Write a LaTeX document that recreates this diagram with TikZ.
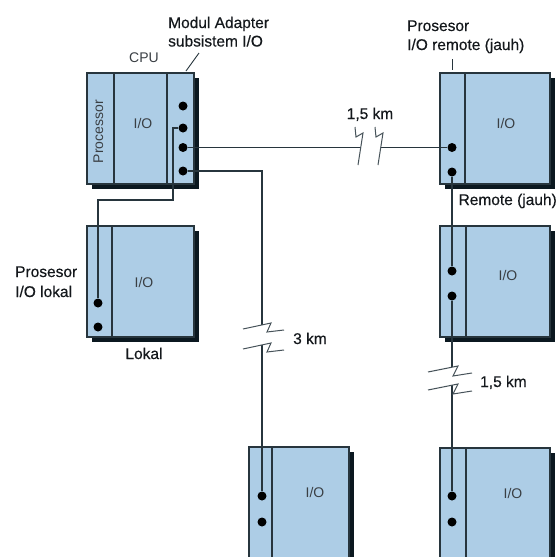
\documentclass[tikz,border=0pt]{standalone}
\usepackage{fontspec}
\setmainfont{Liberation Sans}
\newfontfamily\labfont[FakeBold=0.35]{Liberation Sans}
\usetikzlibrary{shadows}
\definecolor{boxfill}{HTML}{ADCDE6}
\definecolor{edge}{HTML}{27353D}
\definecolor{shad}{HTML}{0B1820}
\definecolor{lbl}{HTML}{14181C}
\definecolor{lt}{HTML}{3A3F44}
\begin{document}
\begin{tikzpicture}[x=1pt,y=-1pt,
 unit/.style={draw=edge, line width=1.2pt, fill=boxfill, anchor=north west, inner sep=0, outer sep=0,
   drop shadow={shadow xshift=4.5pt, shadow yshift=-4.5pt, fill=shad, opacity=1}},
 dot/.style={circle, fill=black, inner sep=0, minimum size=9pt},
 wire/.style={draw=edge, line width=1.2pt},
 brk/.style={draw=edge!85, line width=1pt},
 lab/.style={font=\labfont\fontsize{15.5}{19}\selectfont, text=lbl, inner sep=0},
 light/.style={font=\fontsize{14}{17}\selectfont, text=lt, inner sep=0},
]
\useasboundingbox (0,0) rectangle (558,557);
\clip (0,0) rectangle (558,557);
\fill[white] (0,0) rectangle (558,557);

% units
\node[unit, minimum width=107pt, minimum height=111pt] (cpu) at (87,73) {};
\node[unit, minimum width=107pt, minimum height=111pt] (lok) at (87,226) {};
\node[unit, minimum width=110pt, minimum height=111pt] (rem) at (440,73) {};
\node[unit, minimum width=110pt, minimum height=111pt] (rem2) at (440,226) {};
\node[unit, minimum width=100pt, minimum height=140pt] (bm) at (249,447) {};
\node[unit, minimum width=110pt, minimum height=140pt] (br) at (440,448) {};

% dividers
\draw[wire] (114,73) -- (114,184);
\draw[wire] (167,73) -- (167,184);
\draw[wire] (112,226) -- (112,337);
\draw[wire] (465,73) -- (465,184);
\draw[wire] (466,226) -- (466,337);
\draw[wire] (272,447) -- (272,590);
\draw[wire] (466,448) -- (466,590);

% dots
\node[dot] (c1) at (183,106) {};
\node[dot] (c2) at (183,128) {};
\node[dot] (c3) at (183,147.5) {};
\node[dot] (c4) at (183,171) {};
\node[dot] (l1) at (98,303) {};
\node[dot] (l2) at (98,327) {};
\node[dot] (r1) at (452,147.5) {};
\node[dot] (r2) at (452,172) {};
\node[dot] (s1) at (452,271) {};
\node[dot] (s2) at (452,296) {};
\node[dot] (m1) at (262,496) {};
\node[dot] (m2) at (262,522) {};
\node[dot] (b1) at (452,496) {};
\node[dot] (b2) at (452,522) {};

% bend / break coordinates
\coordinate (j1) at (173,128);
\coordinate (j2) at (173,200);
\coordinate (j3) at (98,200);
\coordinate (h1) at (360.7,147.5);
\coordinate (h2) at (380.7,147.5);
\coordinate (k0) at (262,171);
\coordinate (k1) at (262,324.9);
\coordinate (k2) at (262,344.9);
\coordinate (q1) at (452,367.2);
\coordinate (q2) at (452,385.2);

% connectors
\draw[wire] (c2) -- (j1) -- (j2) -- (j3) -- (l1);
\draw[wire] (c3) -- (h1);
\draw[wire] (h2) -- (r1);
\draw[wire] (c4) -- (k0) -- (k1);
\draw[wire] (k2) -- (m1);
\draw[wire] (r2) -- (s1);
\draw[wire] (s2) -- (q1);
\draw[wire] (q2) -- (b1);

% break marks
\draw[brk] (355,127) -- (356,137) -- (363,133) -- (358,165);
\draw[brk] (375,127) -- (376,137) -- (383,133) -- (378,165);
\draw[brk] (243,329) -- (271,323) -- (267,332) -- (284,330);
\draw[brk] (243,349) -- (271,343) -- (267,352) -- (284,350);
\draw[brk] (428,372) -- (458,366) -- (453,376) -- (472,373);
\draw[brk] (428,390) -- (458,384) -- (453,394) -- (472,391);

% leader lines
\coordinate (la1) at (199,53);
\coordinate (la2) at (186,71);
\draw[edge, line width=0.9pt] (la1) -- (la2);
\coordinate (lb1) at (452,59);
\coordinate (lb2) at (452,70);
\draw[edge, line width=0.9pt] (lb1) -- (lb2);

% texts
\node[light, rotate=90] (proc) at (98.5,131.5) {Processor};
\node[light, anchor=base] (io1) at (143,128) {I/O};
\node[light, anchor=base] (cpul) at (144,62) {CPU};
\node[light, anchor=base] (io2) at (506,128) {I/O};
\node[light, anchor=base] (io3) at (144,287) {I/O};
\node[light, anchor=base] (io4) at (508,280) {I/O};
\node[light, anchor=base] (io5) at (315,497) {I/O};
\node[light, anchor=base] (io6) at (513,498) {I/O};

\node[lab, anchor=base west] (t1) at (168,28) {Modul Adapter};
\node[lab, anchor=base west] (t2) at (168,46.5) {subsistem I/O};
\node[lab, anchor=base west] (t3) at (407,31) {Prosesor};
\node[lab, anchor=base west] (t4) at (407,50) {I/O remote (jauh)};
\node[lab, anchor=base] (t5) at (370,119) {1,5 km};
\node[lab, anchor=base east] (t6) at (557,205) {Remote (jauh)};
\node[lab, anchor=base west] (t7) at (15,277) {Prosesor};
\node[lab, anchor=base west] (t8) at (15,297) {I/O lokal};
\node[lab, anchor=base] (t9) at (144,359) {Lokal};
\node[lab, anchor=base west] (t10) at (293,344) {3 km};
\node[lab, anchor=base west] (t11) at (480,387) {1,5 km};
\end{tikzpicture}
\end{document}
